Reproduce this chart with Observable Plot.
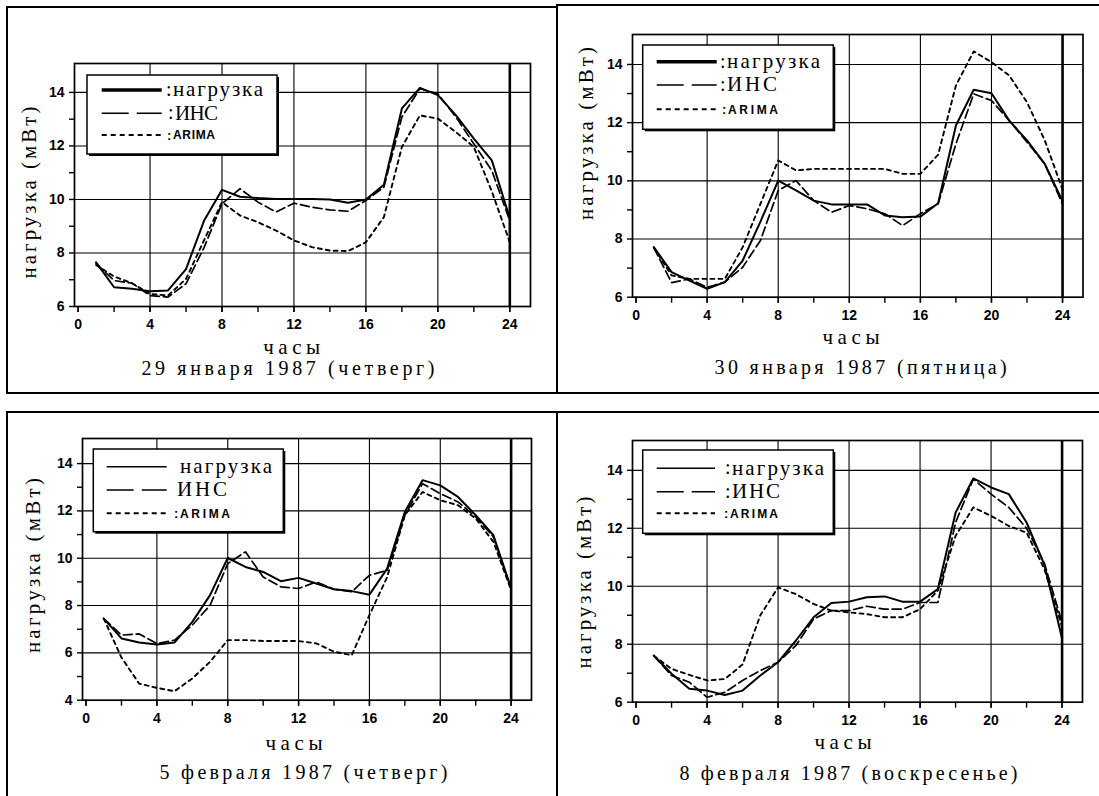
<!DOCTYPE html>
<html><head><meta charset="utf-8">
<script src="https://cdn.jsdelivr.net/npm/d3@7"></script>
<script src="https://cdn.jsdelivr.net/npm/@observablehq/plot@0.6"></script>
<style>
html,body{margin:0;padding:0;background:#fff;}
#page{position:relative;width:1099px;height:796px;overflow:hidden;background:#fff;}
.p{position:absolute;}
#ov{position:absolute;left:0;top:0;pointer-events:none;}
.p text{font-weight:bold;}
</style></head>
<body><div id="page"></div>
<script>
// ---------- data ----------
const hours = [1,2,3,4,5,6,7,8,9,10,11,12,13,14,15,16,17,18,19,20,21,22,23,24];
const xTicks = [0,4,8,12,16,20,24];
const xMinorTicks = [0,2,4,6,8,10,12,14,16,18,20,22,24];
const yTicksA = [6,8,10,12,14];
const yMinorA = [7,9,11,13];
const yTicksB = [4,6,8,10,12,14];
const yMinorB = [5,7,9,11,13];
const seriesNames = ["нагрузка", "ИНС", "ARIMA"];
const xTitle = "часы";
const yTitle = "нагрузка (мВт)";
const captions = ["29 января 1987 (четверг)", "30 января 1987 (пятница)", "5 февраля 1987 (четверг)", "8 февраля 1987 (воскресенье)"];

// 29 January 1987
const load1  = [7.65,6.72,6.66,6.57,6.6,7.4,9.2,10.36,10.1,10.05,10.02,10.02,10.02,10.0,9.88,10.0,10.55,13.4,14.17,13.9,13.15,12.27,11.46,9.3];
const ins1   = [7.6,6.97,6.87,6.41,6.35,6.85,8.2,9.84,10.4,9.9,9.53,9.86,9.71,9.61,9.56,9.96,10.46,13.08,14.14,13.95,13.08,12.08,11.08,9.2];
const arima1 = [7.55,7.12,6.87,6.47,6.41,7.03,8.47,9.9,9.4,9.15,8.84,8.47,8.22,8.09,8.07,8.4,9.34,11.96,13.14,13.02,12.52,11.96,10.3,8.4];
// 30 January 1987
const load2  = [7.72,6.86,6.57,6.29,6.52,7.26,8.6,10.01,9.67,9.32,9.19,9.19,9.19,8.81,8.75,8.77,9.23,11.9,13.13,13.01,12.07,11.39,10.58,9.3];
const ins2   = [7.7,6.5,6.63,6.34,6.52,7.03,7.95,9.67,10.01,9.32,8.92,9.15,9.04,8.87,8.46,8.87,9.21,11.27,12.99,12.76,12.07,11.33,10.58,9.2];
const arima2 = [7.7,6.75,6.63,6.63,6.63,7.72,9.21,10.7,10.36,10.41,10.41,10.41,10.41,10.41,10.24,10.24,10.9,13.28,14.45,14.08,13.62,12.7,11.39,9.7];
// 5 February 1987
const load3  = [7.45,6.61,6.44,6.35,6.44,7.31,8.44,10.01,9.63,9.42,9.03,9.17,8.93,8.69,8.61,8.46,9.56,11.96,13.3,13.08,12.59,11.82,10.97,8.72];
const ins3   = [7.45,6.75,6.8,6.39,6.54,7.17,8.01,9.77,10.27,9.21,8.79,8.72,9.0,8.69,8.58,9.28,9.49,11.82,13.15,12.73,12.38,11.75,10.9,8.72];
const arima3 = [7.45,5.8,4.7,4.52,4.38,4.92,5.62,6.54,6.54,6.5,6.5,6.5,6.4,6.05,5.9,7.6,9.2,11.82,12.8,12.45,12.24,11.68,10.69,8.65];
// 8 February 1987
const load4  = [7.61,6.98,6.46,6.4,6.25,6.4,6.92,7.38,8.12,8.93,9.42,9.47,9.62,9.65,9.47,9.47,9.9,12.54,13.72,13.41,13.18,12.2,10.75,8.2];
const ins4   = [7.6,6.92,6.69,6.17,6.34,6.75,7.09,7.38,7.95,8.87,9.16,9.16,9.31,9.21,9.21,9.44,9.44,12.2,13.7,13.18,12.72,12.0,10.8,8.75];
const arima4 = [7.6,7.15,6.94,6.75,6.8,7.3,9.0,9.96,9.73,9.39,9.16,9.1,9.04,8.93,8.93,9.21,9.85,11.74,12.72,12.43,12.08,11.85,10.6,8.6];

// ---------- layout ----------
const panels = [
  {L:74,    T:63,    W:456,   H:243,   yMin:6, yMax:15.08, yTicks:yTicksA, yMinor:yMinorA, series:[load1,ins1,arima1],
   ylab:[29,192.5,172], xlab:[291.7,348], cap:[288,368,293],
   leg:{box:[87,75,277,154], rows:[90,113.3,135], s0:101.7, s1:161.7, colon:[true,true,true], tx:[173,175,173], tl:[90,43,42], thick:3.5}},
  {L:631.5, T:34,    W:450.5, H:262.7, yMin:6, yMax:15.03, yTicks:yTicksA, yMinor:yMinorA, series:[load2,ins2,arima2],
   ylab:[586,133.5,173], xlab:[851,338], cap:[860.6,366.7,292],
   leg:{box:[642.7,45,833.3,129.3], rows:[61.7,85,109.3], s0:656.7, s1:716.7, colon:[true,true,true], tx:[727,727,728], tl:[93,50,50], thick:3.5}},
  {L:82,    T:438.3, W:449,   H:261.7, yMin:4, yMax:15.06, yTicks:yTicksB, yMinor:yMinorB, series:[load3,ins3,arima3],
   ylab:[33,565.6,175], xlab:[294,743.3], cap:[303.5,771.7,288],
   leg:{box:[93.3,449,283.3,531.7], rows:[466.7,490,513.3], s0:106.7, s1:166.7, colon:[false,false,true], tx:[180,177,180], tl:[92,50,50], thick:1.6}},
  {L:631.5, T:440,   W:450,   H:261.7, yMin:6, yMax:15.03, yTicks:yTicksA, yMinor:yMinorA, series:[load4,ins4,arima4],
   ylab:[584,582.5,172], xlab:[843,743], cap:[848.5,773,338],
   leg:{box:[642.7,450,833.3,533.3], rows:[468.3,491.7,513.3], s0:656.7, s1:715, colon:[true,true,true], tx:[732,732,730], tl:[92,48,48], thick:1.6}}
];

const page = document.getElementById("page");
const mL = 60, mR = 12, mT = 10, mB = 34;
const tickFont = {fontFamily: "'Liberation Sans', Arial, sans-serif", fontSize: 14, fontWeight: "bold"};

panels.forEach(cfg => {
  const rows = vals => hours.map((h, i) => ({h, v: vals[i]}));
  const [ld, ins, ar] = cfg.series;
  const chart = Plot.plot({
    width: cfg.W + mL + mR,
    height: cfg.H + mT + mB,
    marginLeft: mL, marginRight: mR, marginTop: mT, marginBottom: mB,
    x: {domain: [-0.2, 25.15], label: null},
    y: {domain: [cfg.yMin, cfg.yMax], label: null},
    style: {fontFamily: "'Liberation Sans', Arial, sans-serif", fontSize: "14px", fontWeight: "bold", color: "black", background: "transparent", overflow: "visible"},
    marks: [
      Plot.ruleY(cfg.yTicks.filter(v => v > cfg.yMin), {stroke: "black", strokeWidth: 1.1, strokeOpacity: 1}),
      Plot.ruleX(xTicks.filter(v => v > 0 && v < 24), {stroke: "black", strokeWidth: 1.1, strokeOpacity: 1}),
      Plot.ruleX([24], {stroke: "black", strokeWidth: 2.6, strokeOpacity: 1}),
      Plot.line(rows(ar), {x: "h", y: "v", stroke: "black", strokeWidth: 1.9, strokeDasharray: "4,4"}),
      Plot.line(rows(ins), {x: "h", y: "v", stroke: "black", strokeWidth: 1.7, strokeDasharray: "9,4"}),
      Plot.line(rows(ld), {x: "h", y: "v", stroke: "black", strokeWidth: 2}),
      Plot.frame({stroke: "black", strokeWidth: 1.7}),
      Plot.axisX(xMinorTicks, {tickSize: 6, tickFormat: () => "", label: null, strokeWidth: 1.4}),
      Plot.axisX(xTicks, {tickSize: 6, tickPadding: 7, label: null, strokeWidth: 1.4, ...tickFont}),
      Plot.axisY(cfg.yMinor, {tickSize: 5, tickFormat: () => "", label: null, strokeWidth: 1.4}),
      Plot.axisY(cfg.yTicks, {tickSize: 5, tickPadding: 5, label: null, strokeWidth: 1.4, ...tickFont})
    ]
  });
  chart.classList.add("p");
  chart.style.left = (cfg.L - mL) + "px";
  chart.style.top = (cfg.T - mT) + "px";
  page.appendChild(chart);
});

// ---------- overlay: borders, legends, titles ----------
const ov = d3.select(page).append("svg").attr("id", "ov").attr("width", 1099).attr("height", 796);
const borders = [[7,7,557,7],[557,5,1099,5],[7,6,7,393],[557,4,557,393],[6,393,1099,393],[6,412,1099,412],[7,411,7,796],[557,411,557,796]];
ov.append("g").attr("stroke", "black").attr("stroke-width", 2).selectAll("line").data(borders).join("line")
  .attr("x1", d => d[0]).attr("y1", d => d[1]).attr("x2", d => d[2]).attr("y2", d => d[3]);

const serif = "'Liberation Serif', 'Times New Roman', serif";
const sans = "'Liberation Sans', Arial, sans-serif";
const dashes = [null, "27,8", "5,4"];

panels.forEach((cfg, k) => {
  const g = ov.append("g");
  g.append("text").text(yTitle)
    .attr("transform", `translate(${cfg.ylab[0]},${cfg.ylab[1]}) rotate(-90)`)
    .attr("text-anchor", "middle").attr("dy", "0.35em")
    .attr("font-family", serif).attr("font-size", 21)
    .attr("textLength", cfg.ylab[2]).attr("lengthAdjust", "spacing");
  g.append("text").text(xTitle)
    .attr("x", cfg.xlab[0]).attr("y", cfg.xlab[1]).attr("text-anchor", "middle").attr("dy", "0.3em")
    .attr("font-family", serif).attr("font-size", 21)
    .attr("textLength", 57).attr("lengthAdjust", "spacing");
  g.append("text").text(captions[k])
    .attr("x", cfg.cap[0]).attr("y", cfg.cap[1]).attr("text-anchor", "middle").attr("dy", "0.35em")
    .attr("font-family", serif).attr("font-size", 20)
    .attr("textLength", cfg.cap[2]).attr("lengthAdjust", "spacing");
  const lg = cfg.leg, b = lg.box;
  g.append("rect").attr("x", b[0] + 2).attr("y", b[1] + 2).attr("width", b[2] - b[0]).attr("height", b[3] - b[1]).attr("fill", "black");
  g.append("rect").attr("x", b[0]).attr("y", b[1]).attr("width", b[2] - b[0]).attr("height", b[3] - b[1])
    .attr("fill", "white").attr("stroke", "black").attr("stroke-width", 1.5);
  seriesNames.forEach((name, i) => {
    const y = lg.rows[i];
    const ln = g.append("line").attr("x1", lg.s0).attr("x2", lg.s1).attr("y1", y).attr("y2", y)
      .attr("stroke", "black").attr("stroke-width", i === 0 ? lg.thick : (i === 1 ? 1.6 : 2));
    if (dashes[i]) ln.attr("stroke-dasharray", dashes[i]);
    if (lg.colon[i]) {
      const c = g.append("text").text(":");
      if (i === 2) c.attr("x", lg.tx[i] - 6).attr("y", y + 4.5).attr("font-family", sans).attr("font-size", 13).attr("font-weight", "bold");
      else c.attr("x", lg.tx[i] - 7).attr("y", y + 6).attr("font-family", serif).attr("font-size", 20);
    }
    const t = g.append("text").text(name).attr("x", lg.tx[i]).attr("y", y)
      .attr("textLength", lg.tl[i]).attr("lengthAdjust", "spacing");
    if (i === 2) t.attr("font-family", sans).attr("font-size", 12).attr("font-weight", "bold").attr("dy", "0.36em");
    else t.attr("font-family", serif).attr("font-size", 21).attr("dy", "0.3em");
  });
});
</script>
</body></html>
